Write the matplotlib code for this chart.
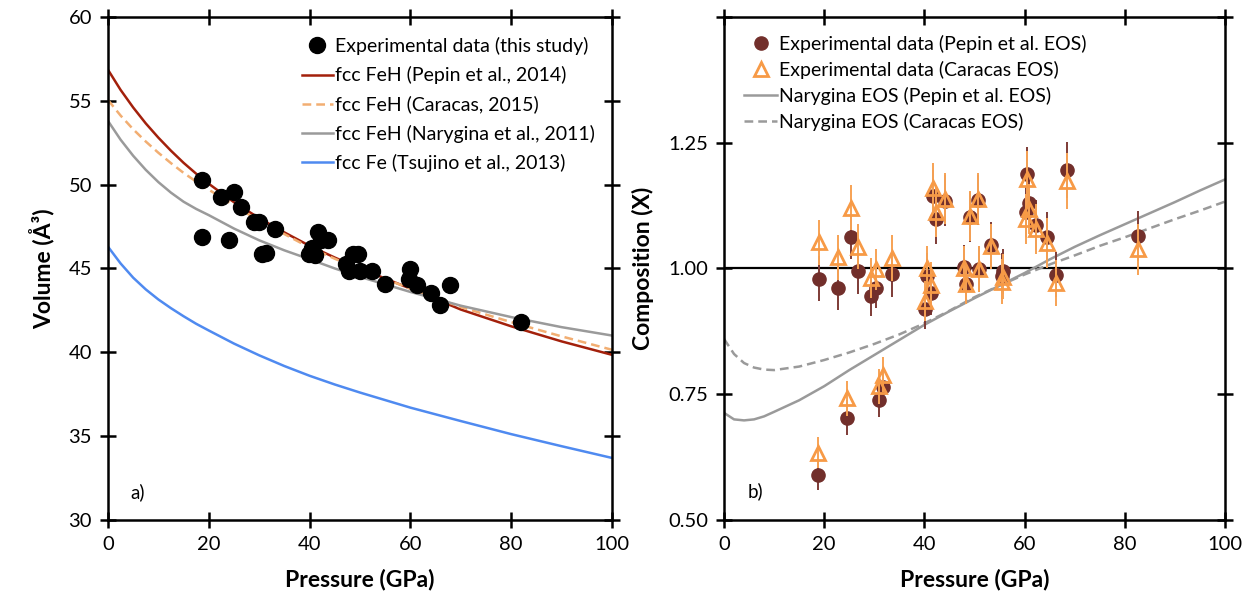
import numpy as np
import matplotlib
matplotlib.use("Agg")
import matplotlib.pyplot as plt
from matplotlib.lines import Line2D

plt.rcParams['font.family'] = ['Lato', 'DejaVu Sans']

# ---------------- panel a) data ----------------
exp_P = [18.7, 18.7, 22.4, 24.0, 25.0, 26.4, 29.0, 30.0, 30.6, 31.3, 33.1,
         39.9, 40.5, 41.1, 41.7, 42.3, 43.7, 47.2, 47.8, 48.6, 49.6, 50.0,
         52.4, 55.0, 59.9, 59.7, 61.3, 64.1, 65.9, 67.9, 82.0]
exp_V = [50.25, 46.9, 49.27, 46.7, 49.56, 48.65, 47.8, 47.8, 45.85, 45.9, 47.36,
         45.85, 46.2, 45.78, 47.15, 46.7, 46.72, 45.25, 44.85, 45.87, 45.87, 44.85,
         44.85, 44.1, 44.97, 44.4, 44.0, 43.56, 42.85, 44.0, 41.78]

curve_P = [0, 2.5, 5, 7.5, 10, 12.5, 15, 17.5, 20, 25, 30, 35, 40, 45, 50, 60,
           70, 80, 90, 100]
pepin_V = [56.85, 55.65, 54.6, 53.65, 52.8, 52.02, 51.3, 50.65, 50.05, 48.95, 48.0,
           47.15, 46.35, 45.65, 45.0, 43.8, 42.55, 41.55, 40.65, 39.85]
caracas_V = [55.05, 54.12, 53.3, 52.57, 51.9, 51.28, 50.7, 50.18, 49.7, 48.75, 47.85,
             47.05, 46.25, 45.58, 44.95, 43.8, 42.7, 41.8, 40.95, 40.15]
narygina_V = [53.8, 52.68, 51.72, 50.88, 50.15, 49.52, 48.98, 48.55, 48.18, 47.38,
              46.68, 46.08, 45.55, 45.0, 44.5, 43.6, 42.78, 42.1, 41.5, 41.0]
tsujino_V = [46.3, 45.3, 44.45, 43.75, 43.15, 42.63, 42.15, 41.7, 41.3, 40.52, 39.82,
             39.18, 38.6, 38.08, 37.6, 36.7, 35.9, 35.12, 34.4, 33.7]

# ---------------- panel b) data ----------------
comp_P = [18.7, 19.0, 22.7, 24.5, 25.4, 26.8, 29.4, 30.3, 30.9, 31.7, 33.5,
          40.1, 40.5, 41.4, 41.8, 42.3, 44.2, 47.9, 48.3, 49.1, 50.6, 50.8,
          53.2, 55.6, 55.4, 60.4, 60.8, 60.2, 62.3, 64.5, 66.3, 68.4, 82.6]
X_pepin = [0.590, 0.980, 0.962, 0.703, 1.063, 0.995, 0.946, 0.962, 0.739, 0.765, 0.989,
           0.920, 0.986, 0.952, 1.145, 1.098, 1.135, 1.002, 0.969, 1.102, 1.136, 0.999,
           1.047, 0.994, 0.985, 1.187, 1.130, 1.113, 1.086, 1.062, 0.988, 1.196, 1.064]
X_caracas = [0.634, 1.052, 1.022, 0.742, 1.121, 1.043, 0.981, 0.998, 0.766, 0.789, 1.021,
             0.935, 1.000, 0.968, 1.159, 1.113, 1.139, 1.000, 0.969, 1.105, 1.139, 0.999,
             1.044, 0.984, 0.974, 1.178, 1.118, 1.098, 1.078, 1.050, 0.971, 1.174, 1.038]
X_err = [0.03, 0.045, 0.045, 0.035, 0.045, 0.045, 0.04, 0.04, 0.035, 0.035, 0.045,
         0.04, 0.045, 0.045, 0.05, 0.05, 0.05, 0.045, 0.04, 0.05, 0.05, 0.045,
         0.045, 0.045, 0.045, 0.055, 0.05, 0.05, 0.05, 0.05, 0.045, 0.055, 0.05]

eos_P = [0, 2, 4, 6, 8, 10, 15, 20, 25, 30, 35, 40, 45, 50, 55, 60, 65, 70, 75,
         80, 85, 90, 95, 100]
nary_pepin_X = [0.713, 0.700, 0.698, 0.700, 0.706, 0.715, 0.738, 0.766, 0.798, 0.828,
                0.858, 0.888, 0.915, 0.941, 0.966, 0.991, 1.018, 1.043, 1.066,
                1.088, 1.110, 1.132, 1.155, 1.177]
nary_caracas_X = [0.860, 0.830, 0.812, 0.803, 0.799, 0.798, 0.805, 0.818, 0.833, 0.850,
                  0.869, 0.891, 0.916, 0.943, 0.966, 0.988, 1.008, 1.026, 1.045,
                  1.062, 1.080, 1.098, 1.115, 1.133]

c_brown = '#722F2B'
c_orange = '#F79A46'
c_gray = '#9A9A9A'
dash = (0, (3.5, 2))

fig = plt.figure(figsize=(12.47, 5.97), dpi=100)
ax1 = fig.add_axes([0.0866, 0.129, 0.4042, 0.8426])
ax2 = fig.add_axes([0.5806, 0.129, 0.4018, 0.8426])

# ---- a) volume vs pressure ----
ax1.plot(exp_P, exp_V, 'o', color='black', markersize=11.5, zorder=5,
         label='Experimental data (this study)')
ax1.plot(curve_P, pepin_V, color='#A3200B', lw=1.8, label='fcc FeH (Pepin et al., 2014)')
ax1.plot(curve_P, caracas_V, color='#F2AE72', lw=1.8, ls=dash,
         label='fcc FeH (Caracas, 2015)')
ax1.plot(curve_P, narygina_V, color=c_gray, lw=1.8, label='fcc FeH (Narygina et al., 2011)')
ax1.plot(curve_P, tsujino_V, color='#4F8AF0', lw=1.8, label='fcc Fe (Tsujino et al., 2013)')

ax1.set_xlim(0, 100)
ax1.set_ylim(30, 60)
ax1.set_xticks(range(0, 101, 20))
ax1.set_yticks(range(30, 61, 5))
ax1.set_xlabel('Pressure (GPa)', fontsize=16.5, fontweight='bold', labelpad=11)
ax1.set_ylabel('Volume (Å³)', fontsize=16.5, fontweight='bold', labelpad=10)
ax1.text(4.5, 31.3, 'a)', fontsize=13.5)
ax1.legend(loc='upper right', frameon=False, fontsize=14, handlelength=1.6,
           handletextpad=0.1, borderaxespad=0.5, labelspacing=0.58,
           bbox_to_anchor=(1.0, 0.995))

# ---- b) composition vs pressure ----
ax2.axhline(1.0, color='black', lw=1.6, zorder=1)
ax2.plot(eos_P, nary_pepin_X, color=c_gray, lw=1.8)
ax2.plot(eos_P, nary_caracas_X, color=c_gray, lw=1.8, ls=dash)
ax2.errorbar(comp_P, X_pepin, yerr=X_err, fmt='o', color=c_brown, ecolor='#7E3B36',
             markersize=9.5, elinewidth=1.4, capsize=0, zorder=3)
ax2.errorbar(comp_P, X_caracas, yerr=X_err, fmt='^', mfc='none', mec=c_orange,
             ecolor='#F7A254', markersize=10.5, mew=2, elinewidth=1.4, capsize=0,
             zorder=4)

ax2.set_xlim(0, 100)
ax2.set_ylim(0.5, 1.5)
ax2.set_xticks(range(0, 101, 20))
ax2.set_yticks([0.5, 0.75, 1.0, 1.25, 1.5])
ax2.set_yticklabels(['0.50', '0.75', '1.00', '1.25', ''])
ax2.set_xlabel('Pressure (GPa)', fontsize=16.5, fontweight='bold', labelpad=11)
ax2.set_ylabel('Composition (X)', fontsize=16.5, fontweight='bold', labelpad=10)
ax2.text(4.8, 0.545, 'b)', fontsize=13.5)

handles = [
    Line2D([], [], ls='none', marker='o', color=c_brown, markersize=9.5),
    Line2D([], [], ls='none', marker='^', mfc='none', mec=c_orange, mew=2, markersize=10),
    Line2D([], [], color=c_gray, lw=1.8),
    Line2D([], [], color=c_gray, lw=1.8, ls=dash),
]
labels = ['Experimental data (Pepin et al. EOS)', 'Experimental data (Caracas EOS)',
          'Narygina EOS (Pepin et al. EOS)', 'Narygina EOS (Caracas EOS)']
ax2.legend(handles, labels, loc='upper left', frameon=False, fontsize=14,
           handlelength=1.7, handletextpad=0.1, labelspacing=0.42,
           bbox_to_anchor=(0.005, 1.0))

for ax in (ax1, ax2):
    for s in ax.spines.values():
        s.set_linewidth(1.8)
    ax.tick_params(direction='inout', length=11, width=1.8, labelsize=14.5,
                   top=True, right=True, pad=6)

fig.savefig('out.png', dpi=100)
